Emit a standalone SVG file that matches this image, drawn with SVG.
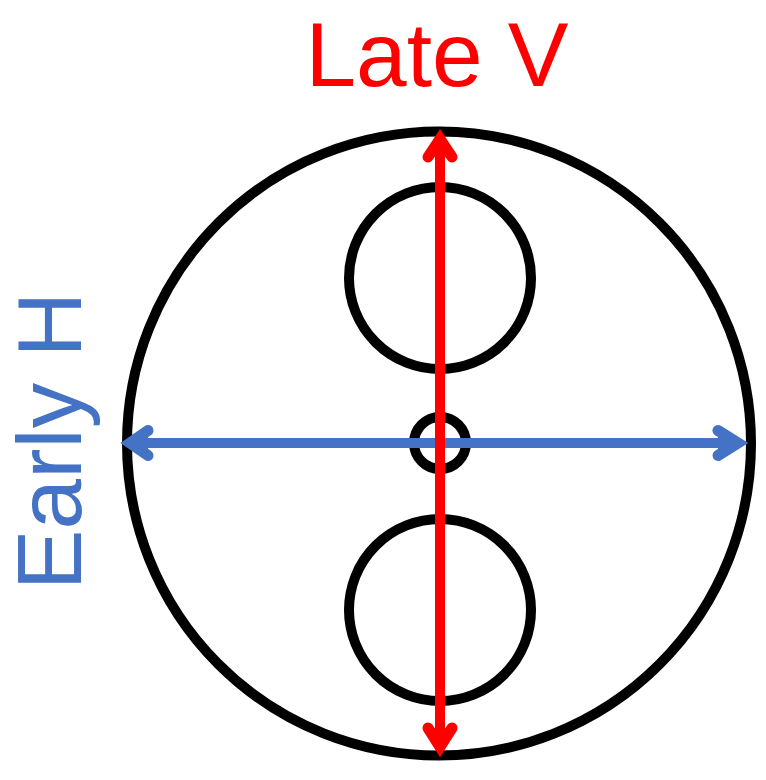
<svg xmlns="http://www.w3.org/2000/svg" width="766" height="780" viewBox="0 0 766 780">
<style>
.ring{fill:none;stroke:#000;stroke-width:10}
.red{stroke:#FF0000;stroke-width:10;fill:none}
.blue{stroke:#4472C4;stroke-width:10;fill:none}
.headR{stroke:#FF0000;fill:#FF0000;stroke-width:11;stroke-linecap:round;stroke-linejoin:miter;stroke-miterlimit:10}
.headB{stroke:#4472C4;fill:#4472C4;stroke-width:11;stroke-linecap:round;stroke-linejoin:miter;stroke-miterlimit:10}
.lbl{font-family:"Liberation Sans",Arial,sans-serif;font-size:91px}
</style>
<rect width="766" height="780" fill="#fff"/>
<g id="outer-circle"><circle class="ring" cx="439" cy="443.5" r="312"/></g>
<g id="top-circle"><circle class="ring" cx="440" cy="278" r="91"/></g>
<g id="bottom-circle"><circle class="ring" cx="440" cy="610" r="91"/></g>
<g id="center-circle"><circle class="ring" cx="440" cy="443" r="26"/></g>
<g id="connectors">
<line class="blue" x1="135" y1="443" x2="733" y2="443"/>
<path class="headB" d="M148,430.5 L130,443 L148,455.5"/>
<path class="headB" d="M718,430.5 L738,443 L718,455.5"/>
<line class="red" x1="440" y1="145" x2="440" y2="741"/>
<path class="headR" d="M428,157 L440,139 L452,157"/>
<path class="headR" d="M428,728 L440,747 L452,728"/>
</g>
<g id="label-late"><text class="lbl" x="437" y="86" text-anchor="middle" fill="#FF0000">Late V</text></g>
<g id="label-early"><text class="lbl" transform="translate(81,441) rotate(-90)" x="0" y="0" text-anchor="middle" fill="#4472C4">Early H</text></g>
</svg>
